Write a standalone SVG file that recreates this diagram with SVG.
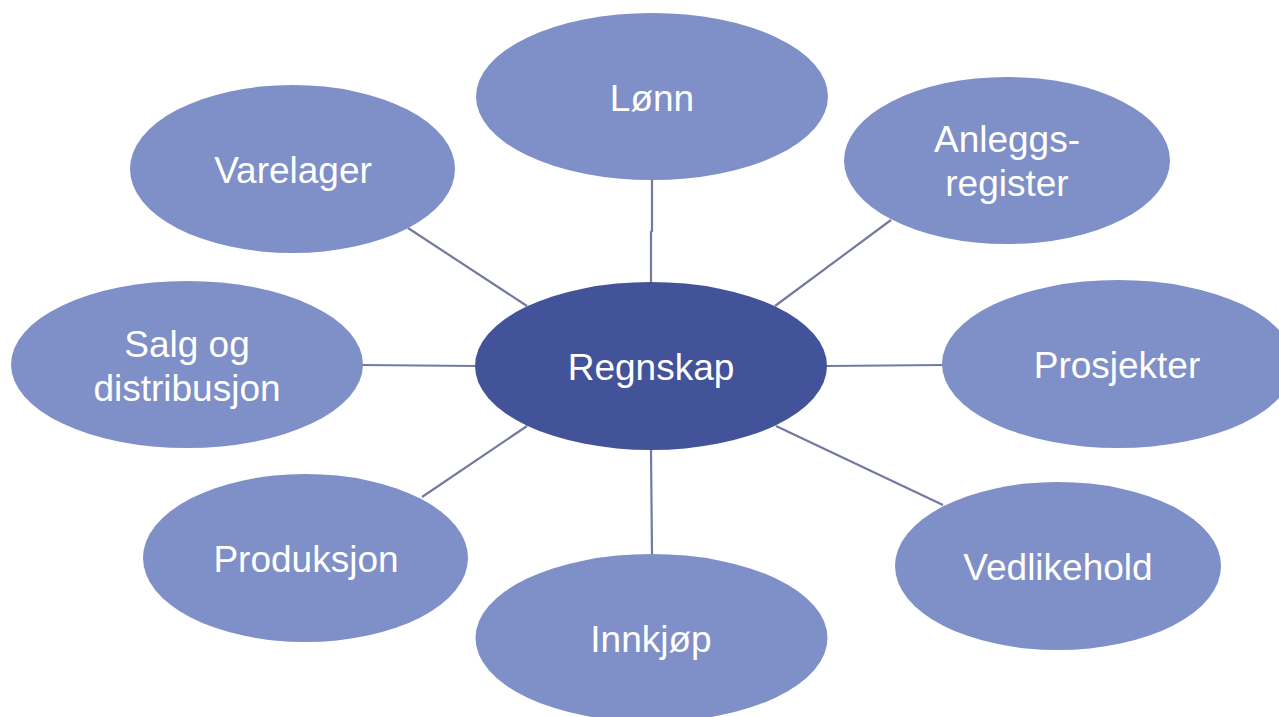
<svg xmlns="http://www.w3.org/2000/svg" width="1279" height="717" viewBox="0 0 1279 717">
<style>
.n{fill:#7F8FC7}
.c{fill:#43539A}
.t{font-family:"Liberation Sans",Arial,sans-serif;font-size:37px;fill:#ffffff;text-anchor:middle}
.l{stroke:#737AA0;stroke-width:2.2;fill:none}
</style>
<rect width="1279" height="717" fill="#ffffff"/>
<g id="connectors">
<polyline class="l" points="652,180 652,231 651,232 651,283"/>
<line class="l" x1="408" y1="228" x2="527" y2="306"/>
<line class="l" x1="891" y1="220" x2="775" y2="306"/>
<line class="l" x1="362" y1="365" x2="476" y2="366"/>
<line class="l" x1="826" y1="366" x2="943" y2="365"/>
<line class="l" x1="422" y1="497" x2="527" y2="426"/>
<line class="l" x1="651" y1="450" x2="652" y2="555"/>
<line class="l" x1="776" y1="426" x2="943" y2="505"/>
</g>
<g id="lonn"><ellipse class="n" cx="652" cy="96.5" rx="176" ry="83.5"/><text class="t" x="652" y="111">Lønn</text></g>
<g id="varelager"><ellipse class="n" cx="292.5" cy="169" rx="162.5" ry="84"/><text class="t" x="293" y="183">Varelager</text></g>
<g id="anleggsregister"><ellipse class="n" cx="1007" cy="160.5" rx="163" ry="83.5"/><text class="t" x="1007" y="152">Anleggs-</text><text class="t" x="1007" y="196">register</text></g>
<g id="salg"><ellipse class="n" cx="187" cy="364.5" rx="176" ry="83.5"/><text class="t" x="187" y="357">Salg og</text><text class="t" x="187" y="401">distribusjon</text></g>
<g id="regnskap"><ellipse class="c" cx="651" cy="366" rx="176" ry="84"/><text class="t" x="651" y="380">Regnskap</text></g>
<g id="prosjekter"><ellipse class="n" cx="1118" cy="364" rx="176" ry="84"/><text class="t" x="1117" y="378">Prosjekter</text></g>
<g id="produksjon"><ellipse class="n" cx="305.5" cy="558" rx="162.5" ry="84"/><text class="t" x="306" y="572">Produksjon</text></g>
<g id="innkjop"><ellipse class="n" cx="651.5" cy="638" rx="176" ry="84"/><text class="t" x="651" y="652">Innkjøp</text></g>
<g id="vedlikehold"><ellipse class="n" cx="1058" cy="566" rx="163" ry="84"/><text class="t" x="1058" y="580">Vedlikehold</text></g>
</svg>
